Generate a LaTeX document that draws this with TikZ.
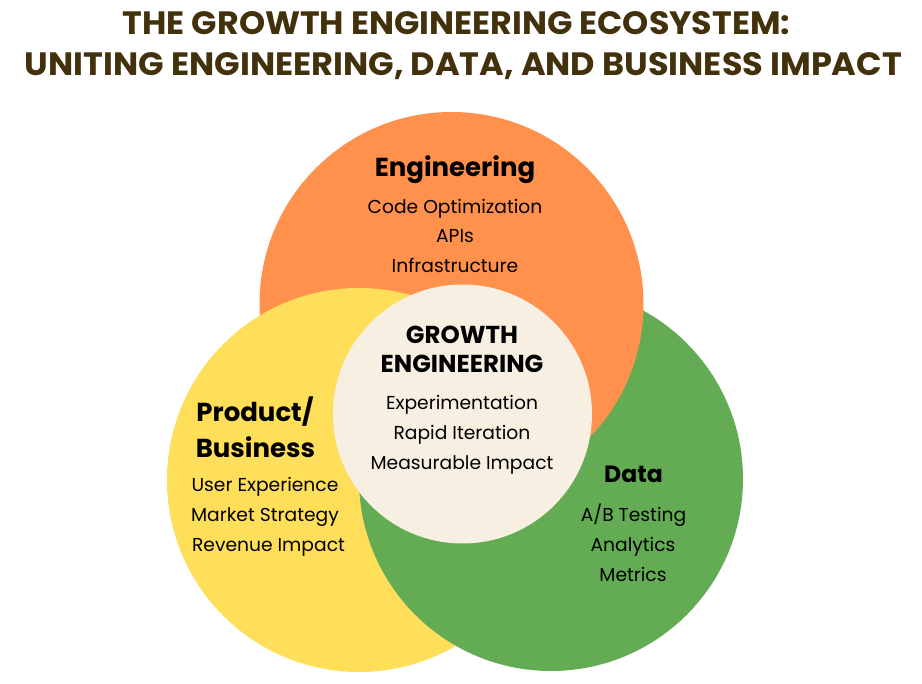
\documentclass[tikz,border=0pt]{standalone}
\usepackage{fontspec}
\usepackage{graphicx}
\setmainfont{Poppins}
\definecolor{orangeC}{HTML}{FF914D}
\definecolor{yellowC}{HTML}{FFDE59}
\definecolor{greenC}{HTML}{63AC53}
\definecolor{creamC}{HTML}{F6EFE2}
\definecolor{titleC}{HTML}{43310B}
\tikzset{
  ttl/.style={anchor=base,inner sep=0pt,text=titleC,font=\bfseries},
  head/.style={anchor=base,inner sep=0pt,text=black,font=\fontsize{26}{30}\selectfont\bfseries},
  body/.style={anchor=base,inner sep=0pt,text=black,font=\fontsize{18.7}{24}\selectfont},
}
\begin{document}
\begin{tikzpicture}[x=1pt,y=-1pt]
\useasboundingbox (0,0) rectangle (922,684);
\coordinate (O) at (451.5,304);
\coordinate (Y) at (359,480);
\coordinate (G) at (551,479);
\coordinate (C) at (462.5,414);
% circles with cyclic overlap
\fill[orangeC] (O) circle (192);
\fill[greenC] (G) circle (192);
\fill[yellowC] (Y) circle (192);
\begin{scope}
  \clip (Y) circle (193.5);
  \fill[greenC] (G) circle (192);
\end{scope}
\begin{scope}
  \clip (G) circle (193.5);
  \fill[orangeC] (O) circle (192);
\end{scope}
\fill[creamC] (C) circle (129.5);
% title
\node[ttl] (t1) at (456.5,35) {\resizebox{667pt}{23pt}{THE GROWTH ENGINEERING ECOSYSTEM:}};
\node[ttl] (t2) at (463.5,76) {\resizebox{877pt}{23pt}{UNITING ENGINEERING, DATA, AND BUSINESS IMPACT}};
% engineering
\node[head] (eh) at (455,177) {Engineering};
\node[body] (e1) at (455,214) {Code Optimization};
\node[body] (e2) at (455,243) {APIs};
\node[body] (e3) at (455,273) {Infrastructure};
% growth
\node[head,font=\fontsize{24.5}{30}\selectfont\bfseries] (gh1) at (462,344) {GROWTH};
\node[head,font=\fontsize{24.5}{30}\selectfont\bfseries] (gh2) at (462,373) {ENGINEERING};
\node[body] (g1) at (462,410) {Experimentation};
\node[body] (g2) at (462,440) {Rapid Iteration};
\node[body] (g3) at (462,470) {Measurable Impact};
% product
\node[head] (ph1) at (255,422) {Product/};
\node[head] (ph2) at (255.5,458) {Business};
\node[body] (p1) at (265,492) {User Experience};
\node[body] (p2) at (265,522) {Market Strategy};
\node[body] (p3) at (268.5,552) {Revenue Impact};
% data
\node[head,font=\fontsize{23.5}{30}\selectfont\bfseries] (dh) at (633.5,483) {Data};
\node[body] (d1) at (633.5,522) {A/B Testing};
\node[body] (d2) at (633,552) {Analytics};
\node[body] (d3) at (633,582) {Metrics};
\end{tikzpicture}
\end{document}
